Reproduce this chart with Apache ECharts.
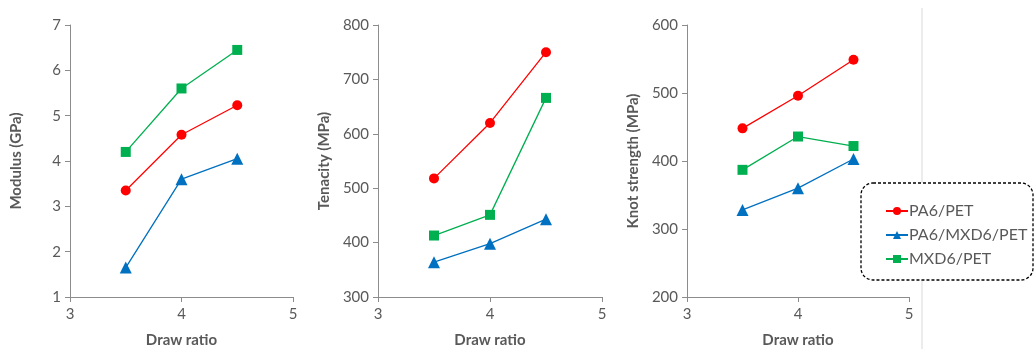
<!DOCTYPE html>
<html>
<head>
<meta charset="utf-8">
<script src="https://cdn.jsdelivr.net/npm/echarts@6/dist/echarts.min.js"></script>
<style>
  html, body { margin: 0; padding: 0; background: #fff; }
  #main { width: 1035px; height: 349px; }
</style>
</head>
<body>
<div id="main"></div>
<script>
// draw ratios on the x axis
var drawRatio = [3.5, 4, 4.5];
var seriesNames = ['PA6/PET', 'PA6/MXD6/PET', 'MXD6/PET'];

// modulus (GPa)
var modulusPA6 = [3.35, 4.58, 5.23];
var modulusBlend = [1.65, 3.6, 4.05];
var modulusMXD6 = [4.2, 5.6, 6.45];

// tenacity (MPa)
var tenacityPA6 = [518, 620, 750];
var tenacityBlend = [364, 398, 443];
var tenacityMXD6 = [413, 451, 666];

// knot strength (MPa)
var knotPA6 = [448, 496, 549];
var knotBlend = [328, 360, 403];
var knotMXD6 = [387, 436, 422];

var colors = ['#ff0000', '#0070c0', '#00b050'];
var symbols = ['circle', 'triangle', 'rect'];
var symbolSizes = [10, 12, 10];
var font = 'Lato, "Open Sans", sans-serif';

var panels = [
    { name: 'Modulus (GPa)', min: 1, max: 7, interval: 1, data: [modulusPA6, modulusBlend, modulusMXD6], left: 70, width: 223 },
    { name: 'Tenacity (MPa)', min: 300, max: 800, interval: 100, data: [tenacityPA6, tenacityBlend, tenacityMXD6], left: 378, width: 224 },
    { name: 'Knot strength (MPa)', min: 200, max: 600, interval: 100, data: [knotPA6, knotBlend, knotMXD6], left: 687, width: 222 }
];

function pairs(ys) {
    return drawRatio.map(function (x, i) { return [x, ys[i]]; });
}

var axisLine = { show: true, lineStyle: { color: '#8c8c8c', width: 1 } };
var axisTick = { show: true, length: 5, lineStyle: { color: '#8c8c8c' } };
var titleStyle = { color: '#595959', fontSize: 15, fontWeight: 'bold', fontFamily: font };

var grid = [], xAxis = [], yAxis = [], series = [];
panels.forEach(function (p, k) {
    grid.push({ left: p.left, width: p.width, top: 25, height: 272, outerBoundsMode: 'none', containLabel: false });
    xAxis.push({
        type: 'value', gridIndex: k, min: 3, max: 5, interval: 1,
        name: 'Draw ratio', nameLocation: 'middle', nameGap: 36,
        nameTextStyle: titleStyle,
        axisLine: axisLine, axisTick: axisTick, splitLine: { show: false },
        axisLabel: { color: '#595959', fontSize: 15, fontFamily: font, margin: 10 }
    });
    yAxis.push({
        type: 'value', gridIndex: k, min: p.min, max: p.max, interval: p.interval,
        name: p.name, nameLocation: 'middle', nameGap: 46,
        nameTextStyle: titleStyle,
        axisLine: axisLine, axisTick: axisTick, splitLine: { show: false },
        axisLabel: { color: '#595959', fontSize: 15, fontFamily: font, margin: 9 }
    });
    p.data.forEach(function (ys, j) {
        series.push({
            name: seriesNames[j], type: 'line', xAxisIndex: k, yAxisIndex: k,
            data: pairs(ys), symbol: symbols[j], symbolSize: symbolSizes[j],
            lineStyle: { color: colors[j], width: 1.3 },
            itemStyle: { color: colors[j] },
            z: 3 - j, animation: false
        });
    });
});

var myChart = echarts.init(document.getElementById('main'));
myChart.setOption({
    animation: false,
    grid: grid,
    xAxis: xAxis,
    yAxis: yAxis,
    series: series,
    legend: {
        data: seriesNames, orient: 'vertical', left: 880, top: 198, z: 10,
        itemWidth: 22, itemHeight: 10, itemGap: 8,
        textStyle: { color: '#595959', fontSize: 16, fontFamily: font, padding: [0, 0, 0, -4] }
    },
    graphic: [
        { type: 'line', shape: { x1: 922, y1: 8, x2: 922, y2: 349 }, style: { stroke: '#d9d9d9', lineWidth: 1 }, z: 0, silent: true },
        { type: 'rect', shape: { x: 861, y: 183, width: 172, height: 97, r: 12 },
          style: { fill: '#fff', stroke: '#000', lineWidth: 1.3, lineDash: [3, 2] }, z: 1, silent: true }
    ]
});
</script>
</body>
</html>
